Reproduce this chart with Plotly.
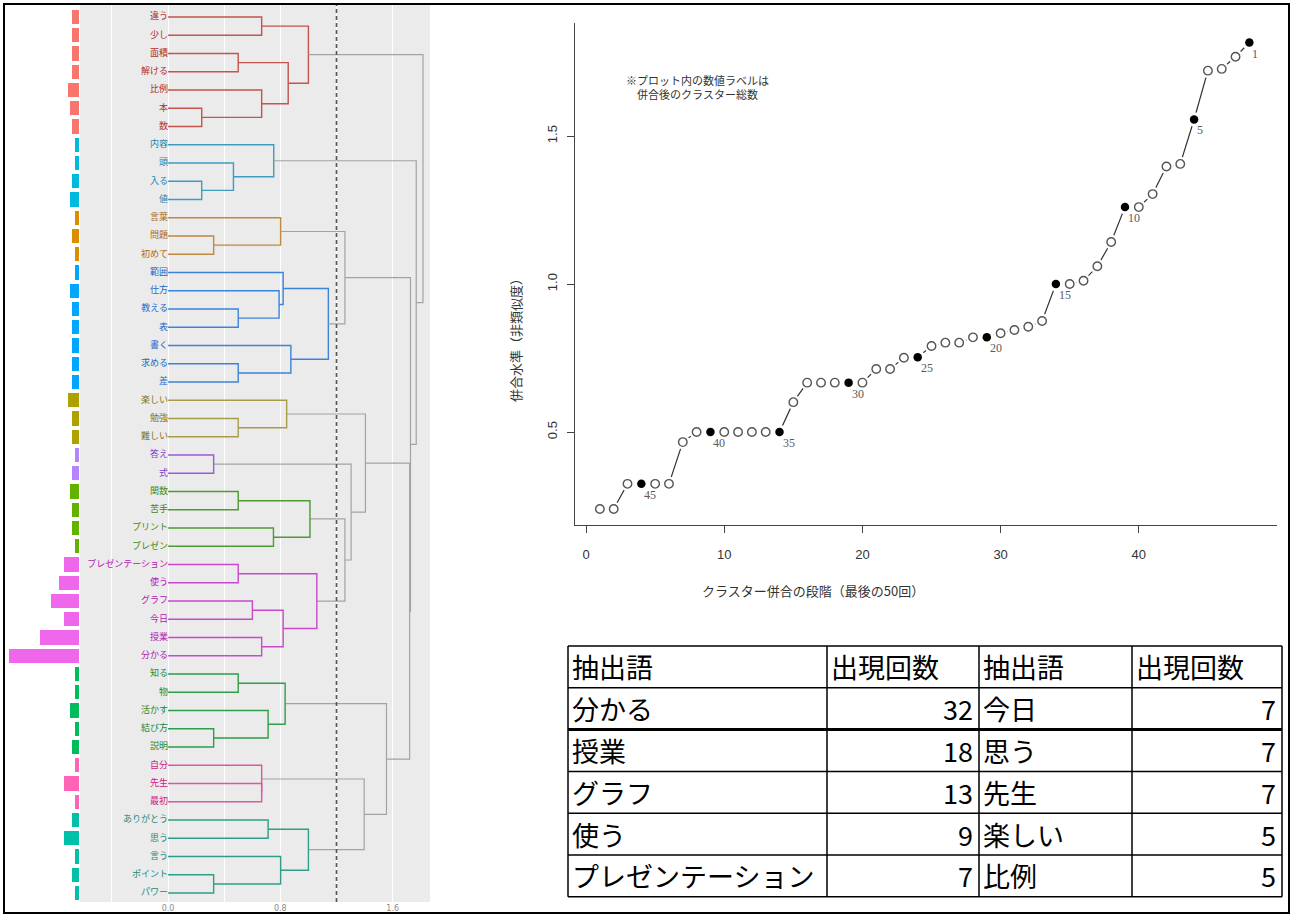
import plotly.graph_objects as go

W, H = 1293, 917


def fx(p):
    return p / W


def fy(p):
    return 1 - p / H


# ---- cluster dendrogram data -------------------------------------------
words = ["違う", "少し", "面積", "解ける", "比例", "本", "数",
         "内容", "頭", "入る", "値",
         "言葉", "問題", "初めて",
         "範囲", "仕方", "教える", "表", "書く", "求める", "差",
         "楽しい", "勉強", "難しい",
         "答え", "式",
         "関数", "苦手", "プリント", "プレゼン",
         "プレゼンテーション", "使う", "グラフ", "今日", "授業", "分かる",
         "知る", "物", "活かす", "結び方", "説明",
         "自分", "先生", "最初",
         "ありがとう", "思う", "言う", "ポイント", "パワー"]
freqs = [3, 3, 3, 3, 5, 4, 3,
         2, 2, 3, 4,
         2, 3, 2,
         2, 4, 3, 3, 3, 3, 3,
         5, 3, 3,
         2, 3,
         4, 3, 3, 2,
         7, 9, 13, 7, 18, 32,
         2, 2, 4, 2, 3,
         2, 7, 2,
         3, 7, 2, 3, 2]

# merges: (child, child, height); a child is a word or the index of an earlier merge
merges = [
    ("本", "数", 0.24), ("面積", "解ける", 0.50), ("違う", "少し", 0.667),
    ("比例", 0, 0.667), (1, 3, 0.856), (2, 4, 1.00),
    ("入る", "値", 0.24), ("頭", 6, 0.466), ("内容", 7, 0.753),
    ("問題", "初めて", 0.325), ("言葉", 9, 0.802),
    ("教える", "表", 0.50), ("仕方", 11, 0.791), ("範囲", 12, 0.82),
    ("求める", "差", 0.50), ("書く", 14, 0.875), (13, 15, 1.142), (10, 16, 1.26),
    ("勉強", "難しい", 0.50), ("楽しい", 18, 0.845),
    ("答え", "式", 0.325),
    ("関数", "苦手", 0.50), ("プリント", "プレゼン", 0.751), (21, 22, 1.011),
    ("プレゼンテーション", "使う", 0.50), ("グラフ", "今日", 0.601),
    ("授業", "分かる", 0.667), (25, 26, 0.82), (24, 27, 1.06),
    (23, 28, 1.26), (20, 29, 1.304), (19, 30, 1.406),
    ("知る", "物", 0.50), ("結び方", "説明", 0.325), ("活かす", 33, 0.713), (32, 34, 0.834),
    ("先生", "最初", 0.667), ("自分", 36, 0.667),
    ("ありがとう", "思う", 0.713), ("ポイント", "パワー", 0.325), ("言う", 39, 0.802),
    (38, 40, 1.00), (37, 41, 1.397), (35, 42, 1.556),
    (31, 43, 1.721), (17, 44, 1.727), (8, 45, 1.768), (5, 46, 1.816),
]
CUT = 1.2

bar_colors = ["#F8766D", "#00BADE", "#DB8E00", "#00A6FF", "#AEA200", "#B385FF",
              "#64B200", "#EF67EB", "#00BD5C", "#FF63B6", "#00C1A7"]
line_colors = ["#C4544C", "#3E9DBE", "#C08840", "#3C84D8", "#A89C48", "#9A5ADC",
               "#4E9A34", "#C84ACB", "#2E9E48", "#E0559E", "#2E9E88"]
label_colors = ["#B0302C", "#1F84B0", "#A86A20", "#2468C8", "#807420", "#8040D0",
                "#3A8A1E", "#B020B0", "#1E8A34", "#D02088", "#1E8A74"]
GRAY_LINK = "#A3A3A3"

pos = {w: i for i, w in enumerate(words)}
node_y, node_h, node_leaves = [], [], []


def child(c):
    if isinstance(c, str):
        return pos[c], 0.0, [pos[c]]
    return node_y[c], node_h[c], node_leaves[c]


# union-find for clusters below the cut height
uf = list(range(len(words)))


def find(i):
    while uf[i] != i:
        uf[i] = uf[uf[i]]
        i = uf[i]
    return i


for a, b, h in merges:
    ya, _, la = child(a)
    yb, _, lb = child(b)
    node_y.append((ya + yb) / 2)
    node_h.append(h)
    node_leaves.append(la + lb)
    if h <= CUT:
        uf[find(la[0])] = find(lb[0])

cluster_of_root = {}
leaf_cluster = []
for i in range(len(words)):
    r = find(i)
    if r not in cluster_of_root:
        cluster_of_root[r] = len(cluster_of_root)
    leaf_cluster.append(cluster_of_root[r])

segs = {}
for n, (a, b, h) in enumerate(merges):
    ya, ha, la = child(a)
    yb, hb, lb = child(b)
    col = line_colors[leaf_cluster[la[0]]] if h <= CUT else GRAY_LINK
    xs, ys = segs.setdefault(col, ([], []))
    xs += [ha, h, h, hb, None]
    ys += [ya, ya, yb, yb, None]

fig = go.Figure()

# frequency bars
fig.add_trace(go.Bar(
    orientation="h", x=freqs, y=list(range(len(words))),
    marker=dict(color=[bar_colors[c] for c in leaf_cluster], line=dict(width=0)),
    width=0.78, xaxis="x", yaxis="y", hoverinfo="skip", showlegend=False))

# dendrogram links
for col, (xs, ys) in segs.items():
    fig.add_trace(go.Scatter(
        x=xs, y=ys, mode="lines", line=dict(color=col, width=1.4 if col != GRAY_LINK else 1.2),
        xaxis="x2", yaxis="y", hoverinfo="skip", showlegend=False))

# leaf labels
fig.add_trace(go.Scatter(
    x=[0] * len(words), y=list(range(len(words))), mode="text", text=words,
    textposition="middle left",
    textfont=dict(family="Noto Sans CJK JP", size=9,
                  color=[label_colors[c] for c in leaf_cluster]),
    xaxis="x2", yaxis="y", hoverinfo="skip", showlegend=False))

# ---- scree plot of merge heights ----------------------------------------
heights = sorted(node_h)
steps = list(range(1, len(heights) + 1))
n_after = [len(words) - s for s in steps]
marked = [k == 1 or k % 5 == 0 for k in n_after]

fig.add_trace(go.Scatter(x=steps, y=heights, mode="lines",
                         line=dict(color="#333333", width=1.2),
                         xaxis="x3", yaxis="y3", hoverinfo="skip", showlegend=False))
# white halo so the connecting line stops short of each point
fig.add_trace(go.Scatter(x=steps, y=heights, mode="markers",
                         marker=dict(symbol="circle", size=14.5, color="white"),
                         xaxis="x3", yaxis="y3", hoverinfo="skip", showlegend=False))
fig.add_trace(go.Scatter(
    x=[s for s, m in zip(steps, marked) if not m],
    y=[v for v, m in zip(heights, marked) if not m], mode="markers",
    marker=dict(symbol="circle-open", size=8.5, color="#555555", line=dict(width=1.4)),
    xaxis="x3", yaxis="y3", hoverinfo="skip", showlegend=False))
fig.add_trace(go.Scatter(
    x=[s for s, m in zip(steps, marked) if m],
    y=[v for v, m in zip(heights, marked) if m], mode="markers",
    marker=dict(symbol="circle", size=8.5, color="black"),
    xaxis="x3", yaxis="y3", hoverinfo="skip", showlegend=False))

annotations = []
for s, v, k, m in zip(steps, heights, n_after, marked):
    if m:
        annotations.append(dict(
            x=s, y=v, xref="x3", yref="y3", text=str(k), showarrow=False,
            xanchor="left", yanchor="middle", xshift=1, yshift=-11,
            font=dict(family="Liberation Serif", size=12, color="#5A5A5A")))

annotations += [
    dict(x=fx(697), y=fy(70), xref="paper", yref="paper",
         text="※プロット内の数値ラベルは<br>併合後のクラスター総数", showarrow=False,
         align="center", font=dict(family="Noto Sans CJK JP", size=11, color="#333333")),
    dict(x=fx(926), y=fy(590), xref="paper", yref="paper",
         text="クラスター併合の段階（最後の50回）", showarrow=False,
         font=dict(family="Noto Sans CJK JP", size=13, color="#333333")),
    dict(x=fx(515), y=fy(270), xref="paper", yref="paper", textangle=-90,
         text="併合水準（非類似度）", showarrow=False,
         font=dict(family="Noto Sans CJK JP", size=13, color="#333333")),
]

# ---- frequency table ----------------------------------------------------
tbl_header = ["抽出語", "出現回数", "抽出語", "出現回数"]
tbl_words_a = ["分かる", "授業", "グラフ", "使う", "プレゼンテーション"]
tbl_counts_a = [32, 18, 13, 9, 7]
tbl_words_b = ["今日", "思う", "先生", "楽しい", "比例"]
tbl_counts_b = [7, 7, 7, 5, 5]

col_edges = [568, 827, 979, 1132, 1282]
tbl_top, row_h = 646, 41.8
n_rows = 1 + len(tbl_words_a)
tbl_font = dict(family="Noto Sans CJK JP", size=27, color="black")

shapes = []
for r in range(n_rows + 1):
    yy = tbl_top + r * row_h
    shapes.append(dict(type="line", xref="paper", yref="paper",
                       x0=fx(col_edges[0]), x1=fx(col_edges[-1]), y0=fy(yy), y1=fy(yy),
                       line=dict(color="black", width=3 if r == 2 else 1.5)))
for c in col_edges:
    shapes.append(dict(type="line", xref="paper", yref="paper",
                       x0=fx(c), x1=fx(c), y0=fy(tbl_top), y1=fy(tbl_top + n_rows * row_h),
                       line=dict(color="black", width=1.5)))


def cell(r, c, text, right=False):
    yc = tbl_top + (r + 0.5) * row_h
    if right:
        return dict(x=fx(col_edges[c + 1] - 4), y=fy(yc), xref="paper", yref="paper",
                    text=text, showarrow=False, xanchor="right", yanchor="middle", font=tbl_font)
    return dict(x=fx(col_edges[c] + 2), y=fy(yc), xref="paper", yref="paper",
                text=text, showarrow=False, xanchor="left", yanchor="middle", font=tbl_font)


for c, t in enumerate(tbl_header):
    annotations.append(cell(0, c, t))
for i in range(len(tbl_words_a)):
    annotations.append(cell(i + 1, 0, tbl_words_a[i]))
    annotations.append(cell(i + 1, 1, str(tbl_counts_a[i]), right=True))
    annotations.append(cell(i + 1, 2, tbl_words_b[i]))
    annotations.append(cell(i + 1, 3, str(tbl_counts_b[i]), right=True))

# dendrogram panel background and cut line
shapes.insert(0, dict(type="rect", xref="x2 domain", yref="y domain", x0=0, x1=1, y0=0, y1=1,
                      fillcolor="#EBEBEB", line=dict(width=0), layer="below"))
shapes.append(dict(type="line", xref="x2", yref="y domain", x0=CUT, x1=CUT, y0=0, y1=1,
                   line=dict(color="#555555", width=1.6, dash="4px,3px"), layer="above"))
# outer frame
shapes.append(dict(type="rect", xref="paper", yref="paper",
                   x0=fx(4), x1=fx(1289), y0=fy(913), y1=fy(4),
                   line=dict(color="black", width=2), fillcolor="rgba(0,0,0,0)"))

n = len(words)
fig.update_layout(
    width=W, height=H, margin=dict(l=0, r=0, t=0, b=0),
    paper_bgcolor="white", plot_bgcolor="rgba(0,0,0,0)",
    showlegend=False, bargap=0,
    xaxis=dict(domain=[fx(2), fx(79)], range=[35.2, 0], visible=False, fixedrange=True),
    yaxis=dict(domain=[fy(902), fy(5)], range=[n - 1 + 0.49, -0.66], visible=False),
    xaxis2=dict(domain=[fx(80), fx(430)], range=[-0.627, 1.866], anchor="y",
                tickvals=[0, 0.8, 1.6], ticktext=["0.0", "0.8", "1.6"],
                tickfont=dict(size=8, color="#8A8A8A", family="DejaVu Sans"),
                showgrid=True, gridcolor="white", gridwidth=1.2, zeroline=False,
                ticks="", showline=False,
                minor=dict(tickvals=[-0.4, 0.4, 1.2], showgrid=True,
                           gridcolor="white", gridwidth=0.6)),
    xaxis3=dict(domain=[fx(575), fx(1277)], range=[-0.8, 50.0], anchor="y3",
                tickvals=[0, 10, 20, 30, 40], ticks="outside", ticklen=7,
                tickcolor="#444444", showline=True, linecolor="#444444", linewidth=1.3,
                showgrid=False, zeroline=False, ticklabelstandoff=10,
                tickfont=dict(size=13, color="#333333", family="Liberation Sans")),
    yaxis3=dict(domain=[fy(525), fy(23)], range=[0.186, 1.882], anchor="x3",
                tickvals=[0.5, 1.0, 1.5], ticktext=["0.5", "1.0", "1.5"], tickangle=-90,
                ticks="outside", ticklen=7, tickcolor="#444444",
                showline=True, linecolor="#444444", linewidth=1.3,
                showgrid=False, zeroline=False, ticklabelstandoff=5,
                tickfont=dict(size=13, color="#333333", family="Liberation Sans")),
    shapes=shapes, annotations=annotations,
)

fig.write_html("out.html")
